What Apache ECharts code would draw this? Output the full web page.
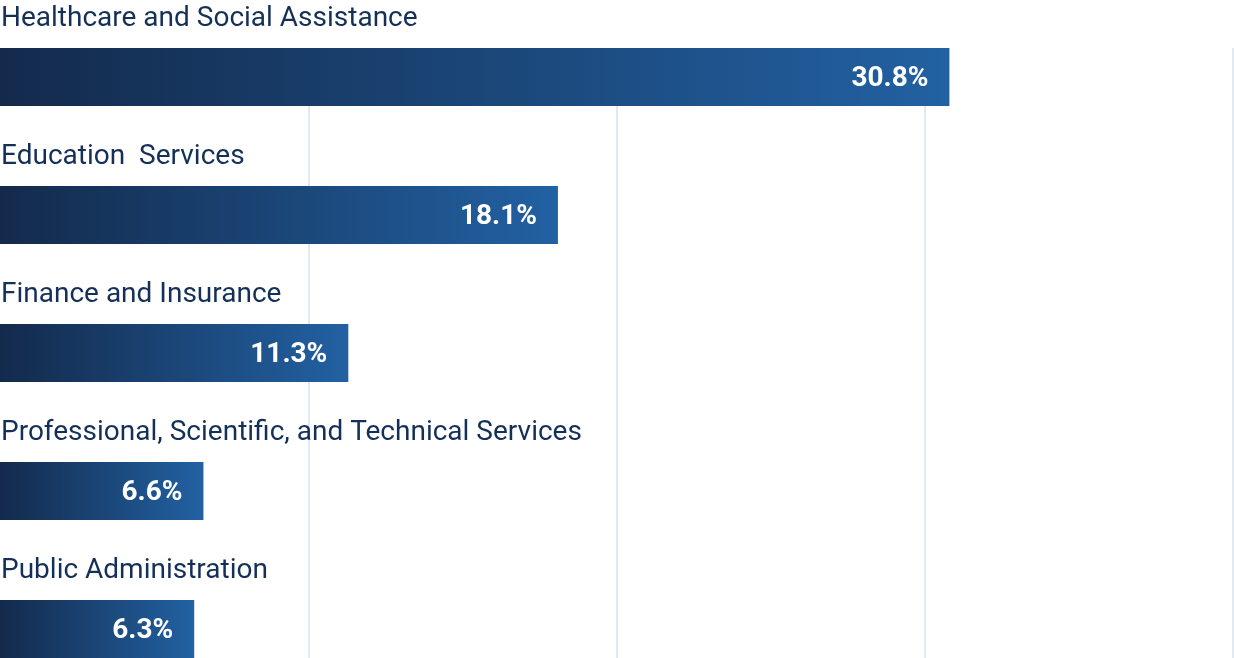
<!DOCTYPE html>
<html><head><meta charset="utf-8">
<script src="https://cdn.jsdelivr.net/npm/echarts@6/dist/echarts.min.js"></script>
<style>html,body{margin:0;padding:0;background:#fff}#c{width:1234px;height:658px}</style>
</head><body><div id="c"></div>
<script>
const categories = ["Healthcare and Social Assistance","Education  Services","Finance and Insurance","Professional, Scientific, and Technical Services","Public Administration"];
const values = [30.8, 18.1, 11.3, 6.6, 6.3];
const axisMax = 40;
const axisInterval = 10;

const chart = echarts.init(document.getElementById('c'), null, {renderer:'canvas'});
const grad = new echarts.graphic.LinearGradient(0,0,1,0,[{offset:0,color:'#132a4c'},{offset:1,color:'#2261a2'}]);
chart.setOption({
  animation:false,
  grid:[
    {left:0,right:1,top:77,bottom:29,containLabel:false},
    {left:0,right:1,top:48,bottom:0,containLabel:false}
  ],
  xAxis:[
    {gridIndex:0,type:'value',min:0,max:axisMax,interval:axisInterval,show:false},
    {gridIndex:1,type:'value',min:0,max:axisMax,interval:axisInterval,axisLine:{show:false},axisTick:{show:false},axisLabel:{show:false},
     splitLine:{show:true,lineStyle:{width:2,color:['rgba(0,0,0,0)','#e3e9f2','#e3e9f2','#e3e9f2','#e3e9f2']}}}
  ],
  yAxis:[
    {gridIndex:0,type:'category',data:categories,inverse:true,boundaryGap:false,show:false},
    {gridIndex:1,type:'value',min:0,max:1,show:false}
  ],
  series:[
    {type:'bar',xAxisIndex:0,yAxisIndex:0,data:values,barWidth:58,z:3,
     itemStyle:{color:grad},
     label:{show:true,position:'insideRight',distance:21,offset:[0,2],color:'#fff',fontFamily:'Roboto',fontWeight:'bold',fontSize:28,
       formatter:p=>p.value.toFixed(1)+'%'}},
    {type:'scatter',xAxisIndex:0,yAxisIndex:0,symbolSize:0,data:categories.map(c=>[0,c]),z:4,
     itemStyle:{opacity:1},
     label:{show:true,position:'right',distance:1,offset:[0,-58],color:'#153058',fontFamily:'Roboto',fontSize:28,
       formatter:p=>p.value[1]}}
  ]
});
</script></body></html>
